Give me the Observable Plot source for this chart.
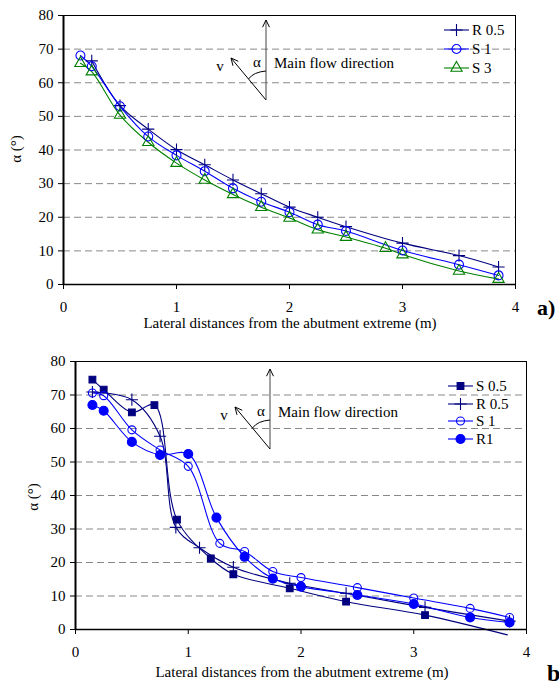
<!DOCTYPE html>
<html>
<head>
<meta charset="utf-8">
<script src="https://cdn.jsdelivr.net/npm/d3@7"></script>
<script src="https://cdn.jsdelivr.net/npm/@observablehq/plot@0.6"></script>
<style>
  html, body { margin: 0; padding: 0; background: #fff; }
  #wrap { position: relative; width: 559px; height: 684px; overflow: hidden; }
  .panel { position: absolute; left: 0; }
  svg text { font-family: "Liberation Serif", "Times New Roman", Tinos, "DejaVu Serif", serif !important; }
</style>
</head>
<body>
<div id="wrap">
  <div id="top" class="panel" style="top:0px"></div>
  <div id="bot" class="panel" style="top:340px"></div>
</div>
<script>
// ---------- Data ----------
const xTicks = [0, 1, 2, 3, 4];
const yTicks = [0, 10, 20, 30, 40, 50, 60, 70, 80];
const gridY = [10, 20, 30, 40, 50, 60, 70];
const xLabel = "Lateral distances from the abutment extreme (m)";
const yLabel = "α (°)";

// Panel a)
const aR05 = [[0.25,66.5],[0.5,53.2],[0.75,46.2],[1.0,40.1],[1.25,35.6],[1.5,31.1],[1.75,27.0],[2.0,23.0],[2.25,20.0],[2.5,17.2],[3.0,12.3],[3.5,8.6],[3.85,5.2]];
const aS1  = [[0.15,68.1],[0.25,64.9],[0.5,53.0],[0.75,44.0],[1.0,38.4],[1.25,33.7],[1.5,28.6],[1.75,24.6],[2.0,21.5],[2.25,17.8],[2.5,15.9],[3.0,10.1],[3.5,5.9],[3.85,2.7]];
const aS3  = [[0.15,65.8],[0.25,63.3],[0.5,50.4],[0.75,42.3],[1.0,36.1],[1.25,31.1],[1.5,26.8],[1.75,23.0],[2.0,19.8],[2.25,16.3],[2.5,14.1],[2.85,10.8],[3.0,8.9],[3.5,4.0],[3.85,1.6]];

// Panel b)
const bS05 = [[0.15,74.6],[0.25,71.6],[0.5,64.8],[0.7,67.0],[0.9,32.8],[1.2,21.2],[1.4,16.5],[1.9,12.3],[2.4,8.3],[3.1,4.3],[3.83,-1.6]];
const bR05 = [[0.15,70.9],[0.5,68.6],[0.75,57.7],[0.89,30.5],[1.1,24.4],[1.4,18.6],[1.9,13.8],[2.4,10.8],[3.1,6.6],[3.85,2.5]];
const bS1  = [[0.15,70.6],[0.25,69.8],[0.5,59.6],[0.75,53.6],[1.0,48.7],[1.28,25.7],[1.5,23.3],[1.75,17.3],[2.0,15.5],[2.5,12.5],[3.0,9.4],[3.5,6.3],[3.85,3.6]];
const bR1  = [[0.15,67.0],[0.25,65.3],[0.5,56.0],[0.75,52.1],[1.0,52.4],[1.25,33.4],[1.5,21.7],[1.75,15.2],[2.0,12.8],[2.5,10.3],[3.0,7.6],[3.5,3.6],[3.85,2.1]];

const navy = "#000080", blue = "#0000ff", green = "#008000";

const seriesA = [
  {name: "R 0.5", data: aR05, color: navy,  symbol: "plus",     fill: "none", r: 4},
  {name: "S 1",   data: aS1,  color: blue,  symbol: "circle",   fill: "none", r: 4.5},
  {name: "S 3",   data: aS3,  color: green, symbol: "triangle", fill: "none", r: 4.2}
];
const seriesB = [
  {name: "S 0.5", data: bS05, color: navy, symbol: "square", fill: navy, r: 3.8},
  {name: "R 0.5", data: bR05, color: navy, symbol: "plus",   fill: "none", r: 4},
  {name: "S 1",   data: bS1,  color: blue, symbol: "circle", fill: "none", r: 4},
  {name: "R1",    data: bR1,  color: blue, symbol: "circle", fill: blue, r: 4.5}
];

const FONT = '"Liberation Serif", "Times New Roman", Tinos, "DejaVu Serif", serif';

function makePanel(series, opt) {
  const marks = [
    Plot.ruleY(gridY, {stroke: "#888", strokeDasharray: "7,4", strokeWidth: 1}),
    Plot.frame({stroke: "#000"})
  ];
  for (const s of series) {
    marks.push(Plot.line(s.data, {x: d => d[0], y: d => d[1], stroke: s.color, strokeWidth: 1.1, curve: "catmull-rom"}));
  }
  for (const s of series) {
    marks.push(Plot.dot(s.data.filter(d => d[1] >= 0), {x: d => d[0], y: d => d[1], symbol: () => s.symbol, r: s.r,
      stroke: s.color, fill: s.fill, strokeWidth: 1.1}));
  }
  marks.push(Plot.ruleX([0], {stroke: "#000", strokeWidth: 2}));
  marks.push(Plot.ruleY([0], {stroke: "#000", strokeWidth: 1.5}));
  return Plot.plot({
    width: 559, height: opt.height,
    marginTop: opt.mt, marginBottom: opt.mb, marginLeft: opt.ml, marginRight: opt.mr,
    style: {fontFamily: FONT, fontSize: "15px", color: "#000", background: "transparent", overflow: "visible"},
    x: {domain: [0, 4], ticks: xTicks, tickSize: 5, tickPadding: 12, label: null, tickFormat: d => String(d)},
    y: {domain: [0, 80], ticks: yTicks, tickSize: 5, tickPadding: 5, label: null, tickFormat: d => String(d)},
    marks
  });
}

function txt(g, x, y, s, anchor, size = 15) {
  return g.append("text").attr("x", x).attr("y", y).attr("text-anchor", anchor).attr("dy", "0.35em")
    .style("font-family", FONT).style("font-size", size + "px").attr("fill", "#000").text(s);
}

function decorate(svg, series, o) {
  const g = d3.select(svg).append("g");
  const sym = {plus: d3.symbolPlus, circle: d3.symbolCircle, triangle: d3.symbolTriangle, square: d3.symbolSquare};
  txt(g, o.xlx, o.xly, xLabel, "middle");
  g.append("text").attr("transform", `translate(${o.ylx},${o.yly}) rotate(-90)`).attr("text-anchor", "middle")
    .attr("dy", "0.35em").style("font-family", FONT).style("font-size", "15px").text(yLabel);
  // legend
  series.forEach((s, i) => {
    const y = o.legY[i];
    g.append("line").attr("x1", o.legX).attr("x2", o.legX + 25).attr("y1", y).attr("y2", y)
      .attr("stroke", s.color).attr("stroke-width", 1.1);
    g.append("path").attr("transform", `translate(${o.legX + 12.5},${y})`)
      .attr("d", d3.symbol(sym[s.symbol], Math.PI * s.r * s.r)())
      .attr("stroke", s.color).attr("fill", s.fill).attr("stroke-width", 1.1);
    txt(g, o.legX + 28, y, s.name, "start");
  });
  // flow diagram
  const d = o.diag;
  const head = (x0, y0, x1, y1) => {
    const a = Math.atan2(y1 - y0, x1 - x0), L = 8, w = 0.45;
    return `M${x1 - L*Math.cos(a - w)},${y1 - L*Math.sin(a - w)}L${x1},${y1}L${x1 - L*Math.cos(a + w)},${y1 - L*Math.sin(a + w)}`;
  };
  const stroke = (p, c = "#000") => g.append("path").attr("d", p).attr("fill", "none").attr("stroke", c).attr("stroke-width", 1);
  stroke(`M${d.ox},${d.oy}L${d.ox},${d.ty}`, "#444");
  stroke(head(d.ox, d.oy, d.ox, d.ty));
  stroke(`M${d.ox},${d.oy}L${d.vx},${d.vy}`);
  stroke(head(d.ox, d.oy, d.vx, d.vy));
  const ax = d.ox + (d.vx - d.ox) * 0.5, ay = d.oy + (d.vy - d.oy) * 0.5;
  stroke(`M${ax},${ay}Q${ax + 5},${ay - 7} ${d.ox},${ay - 8}`);
  txt(g, d.ox - 9, ay - 17, "α", "middle");
  txt(g, d.vx - 11, d.vy + 8, "v", "middle");
  txt(g, d.ox + 8, ay - 16, "Main flow direction", "start");
  g.append("text").attr("x", o.letX).attr("y", o.letY).attr("dy", "0.35em").attr("text-anchor", "start")
    .style("font-family", FONT).style("font-size", o.letSize + "px").style("font-weight", "bold").text(o.letter);
}

const svgA = makePanel(seriesA, {height: 340, mt: 15, mb: 56, ml: 63, mr: 44});
document.getElementById("top").appendChild(svgA);
decorate(svgA, seriesA, {
  xlx: 290, xly: 323, ylx: 16, yly: 149,
  legX: 444, legY: [30, 49, 68],
  diag: {ox: 266, oy: 100, ty: 20, vx: 231, vy: 58},
  letX: 537, letY: 307, letSize: 22, letter: "a)"
});

const svgB = makePanel(seriesB, {height: 344, mt: 21, mb: 55, ml: 75, mr: 33});
document.getElementById("bot").appendChild(svgB);
decorate(svgB, seriesB, {
  xlx: 302, xly: 332, ylx: 33, yly: 157,
  legX: 448, legY: [46, 64, 81, 99],
  diag: {ox: 270, oy: 109, ty: 29, vx: 235, vy: 67},
  letX: 547, letY: 333, letSize: 24, letter: "b)"
});
</script>
</body>
</html>
